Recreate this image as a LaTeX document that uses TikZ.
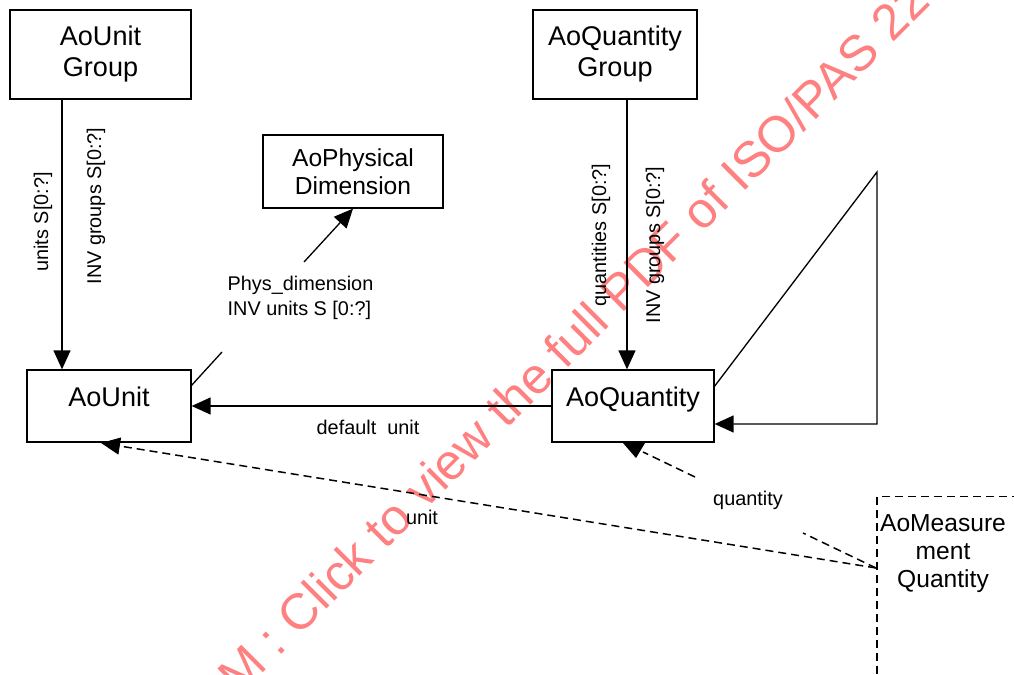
\documentclass[tikz,border=0pt]{standalone}
\usepackage{fontspec}
\setmainfont{Liberation Sans}
\usetikzlibrary{arrows.meta}
\definecolor{wmred}{RGB}{255,128,128}
\begin{document}
\begin{tikzpicture}[x=0.02cm,y=-0.02cm, line width=0.75pt,
  box/.style={draw, rectangle, inner sep=0pt, align=center},
  bigfont/.style={font=\fontsize{15.4pt}{17.64pt}\selectfont},
  midfont/.style={font=\fontsize{14pt}{15.9pt}\selectfont},
  lbl/.style={font=\fontsize{11.3pt}{14.2pt}\selectfont, inner sep=0pt},
  arr/.style={-{Triangle[length=0.38cm,width=0.34cm]}},
  dsh/.style={line width=0.85pt, dash pattern=on 0.16cm off 0.1cm}]
\useasboundingbox (0,0) rectangle (1014,675);
\clip (0,0) rectangle (1014,675);
% watermark
\node[rotate=45, anchor=base west, inner sep=0pt, text=wmred,
  font=\fontsize{28.7pt}{30pt}\selectfont] (wmk) at (298,638)
  {\llap{STANDARDSISO.COM : }Click to view the full PDF of ISO/PAS 22720};
% boxes
\node[box,bigfont,minimum width=3.62cm,minimum height=1.78cm] (ug) at (100.5,54.5) {AoUnit\\Group};
\node[box,bigfont,minimum width=3.28cm,minimum height=1.78cm] (qg) at (615,54.5) {AoQuantity\\Group};
\node[box,midfont,minimum width=3.6cm,minimum height=1.46cm] (pd) at (353,171.5) {AoPhysical\\Dimension};
\node[box,bigfont,minimum width=3.28cm,minimum height=1.44cm,text height=0.3cm,text depth=0.3cm] (u) at (109,406) {AoUnit};
\node[box,bigfont,minimum width=3.24cm,minimum height=1.44cm,text height=0.3cm,text depth=0.3cm] (q) at (633,406) {AoQuantity};
\node[draw,dsh,minimum width=4cm,minimum height=5cm,anchor=north west,inner sep=0pt] (mq) at (876,496) {};
\node[midfont,align=center,inner sep=0pt] (mqt) at (943,554) {AoMeasure\\ment\\Quantity};
% vertical connectors
\coordinate (xa) at (62,0);
\draw[arr] (xa |- ug.south) -- (xa |- u.north);
\coordinate (xb) at (627,0);
\draw[arr] (xb |- qg.south) -- (xb |- q.north);
\node[lbl,rotate=90] (l1) at (43,222) {units S[0:?]};
\node[lbl,rotate=90] (l2) at (96,206) {INV groups S[0:?]};
\node[lbl,rotate=90] (l3) at (601,235) {quantities S[0:?]};
\node[lbl,rotate=90] (l4) at (655,245) {INV groups S[0:?]};
% phys dimension
\coordinate (us) at (191,386);
\coordinate (p1) at (222,352);
\coordinate (p2) at (304,262);
\draw (us) -- (p1);
\draw[arr] (p2) -- (pd.south);
\node[lbl,anchor=north west,align=left] (pl) at (227,275.5) {Phys\_dimension\\INV units S [0:?]};
% default unit
\draw[arr] (q.west) -- (u.east);
\node[lbl] (ldu) at (368,427) {default\ \ unit};
% self loop
\coordinate (s0) at (714,387);
\coordinate (s1) at (877,172);
\coordinate (s2) at (877,424);
\draw[arr] (s0) -- (s1) -- (s2) -- (q.east |- s2);
% quantity dashed
\coordinate (mp) at (876,568);
\coordinate (d1) at (803,533);
\coordinate (d2) at (695,477);
\coordinate (d3) at (643,452);
\draw[dsh] (mp) -- (d1);
\draw[dsh] (d2) -- (d3);
\fill (623,443) -- (645,443) -- (636,458) -- cycle;
\node[lbl] (lq) at (748,500) {quantity};
% unit dashed
\coordinate (ut) at (101,443);
\draw[dsh,arr] (mp) -- (ut);
\node[lbl] (lu) at (422,517) {unit};
\end{tikzpicture}
\end{document}
